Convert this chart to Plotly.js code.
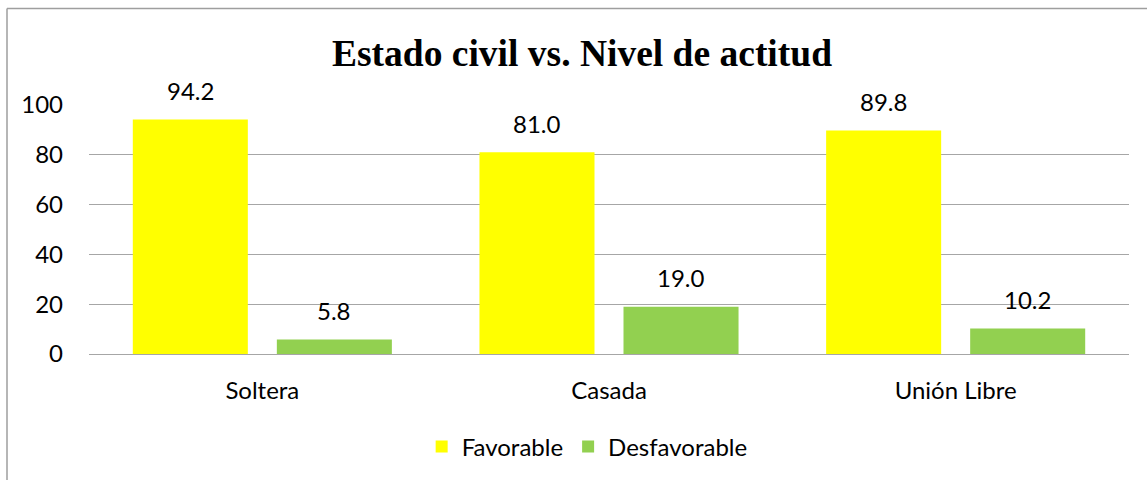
<!DOCTYPE html>
<html>
<head>
<meta charset="utf-8">
<script src="https://cdn.plot.ly/plotly-3.0.1.min.js"></script>
<style>
  html, body { margin: 0; padding: 0; background: #fff; overflow: hidden; }
  #chart { width: 1147px; height: 480px; }
</style>
</head>
<body>
<div id="chart"></div>
<script>
const categories = ["Soltera", "Casada", "Unión Libre"];
const favorable = [94.2, 81.0, 89.8];
const desfavorable = [5.8, 19.0, 10.2];
const seriesNames = ["Favorable", "Desfavorable"];
const yTicks = [0, 20, 40, 60, 80, 100];

const FONT = "Lato, 'Open Sans', sans-serif";
const bargap = 0.169;
const groupgap = 0.2014;
const slot = (1 - bargap) / 2;

const traces = [
  { type: "bar", name: seriesNames[0], x: categories, y: favorable,
    marker: { color: "#FFFF00" }, hoverinfo: "x+y" },
  { type: "bar", name: seriesNames[1], x: categories, y: desfavorable,
    marker: { color: "#92D050" }, hoverinfo: "x+y" }
];

const annotations = [];
[favorable, desfavorable].forEach((vals, s) => {
  vals.forEach((v, i) => {
    annotations.push({
      x: i + (s === 0 ? -slot / 2 : slot / 2),
      y: v, xref: "x", yref: "y",
      text: v.toFixed(1), showarrow: false,
      yanchor: "middle", yshift: 29,
      font: { family: FONT, size: 24, color: "#000" }
    });
  });
});

const layout = {
  width: 1147, height: 480,
  margin: { l: 89, r: 18, t: 105, b: 125 },
  paper_bgcolor: "#fff", plot_bgcolor: "#fff",
  title: {
    text: "<b>Estado civil vs. Nivel de actitud</b>",
    font: { family: "'Liberation Serif', 'Times New Roman', serif", size: 37.5, color: "#000" },
    xref: "container", x: 582 / 1147, xanchor: "center",
    yref: "container", y: 1 - 53 / 480, yanchor: "middle"
  },
  barmode: "group", bargap: bargap, bargroupgap: groupgap,
  showlegend: true,
  legend: {
    orientation: "h", x: 0.479, xanchor: "center", y: -0.368, yanchor: "middle",
    font: { family: FONT, size: 24, color: "#000" }
  },
  xaxis: {
    type: "category", showgrid: false, zeroline: false, showline: false,
    ticks: "", ticklabelstandoff: 20,
    tickfont: { family: FONT, size: 24, color: "#000" }
  },
  yaxis: {
    range: [0, 100], tickvals: yTicks, ticktext: yTicks.map(String),
    showgrid: true, gridcolor: "#A6A6A6", gridwidth: 1,
    zeroline: true, zerolinecolor: "#A6A6A6", zerolinewidth: 1,
    showline: false, ticks: "", ticklabelstandoff: 25,
    tickfont: { family: FONT, size: 24, color: "#000" }
  },
  annotations: annotations,
  shapes: [
    { type: "line", xref: "paper", yref: "paper",
      x0: (7 - 89) / 1040, x1: (7 - 89) / 1040, y0: -2, y1: 1 + (105 - 8) / 250,
      line: { color: "#9E9E9E", width: 1.5 } },
    { type: "line", xref: "paper", yref: "paper",
      x0: (7 - 89) / 1040, x1: 1.2, y0: 1 + (105 - 8) / 250, y1: 1 + (105 - 8) / 250,
      line: { color: "#9E9E9E", width: 1.5 } }
  ]
};

Plotly.newPlot("chart", traces, layout, { displayModeBar: false, staticPlot: true });
</script>
</body>
</html>
